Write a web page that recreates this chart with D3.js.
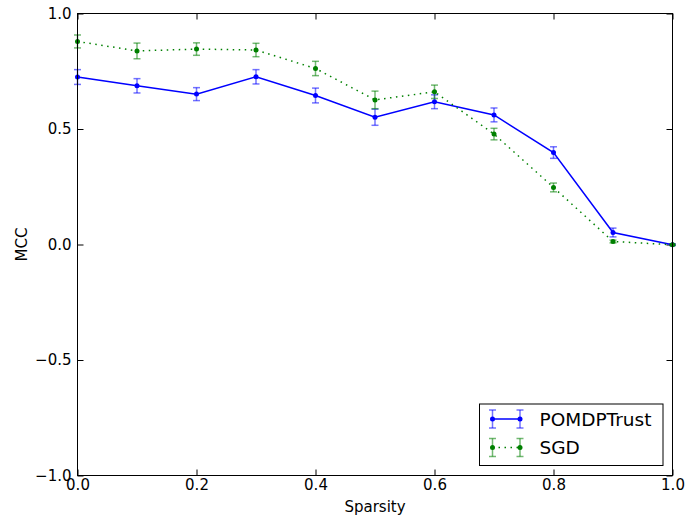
<!DOCTYPE html>
<html>
<head>
<meta charset="utf-8">
<script src="https://cdn.jsdelivr.net/npm/d3@7/dist/d3.min.js"></script>
<style>
  body { margin: 0; background: #fff; }
  text { font-family: "DejaVu Sans", sans-serif; }
</style>
</head>
<body>
<div id="chart"></div>
<script>
var sparsity = [0.0, 0.1, 0.2, 0.3, 0.4, 0.5, 0.6, 0.7, 0.8, 0.9, 1.0];
var pomdpMean = [0.725, 0.687, 0.651, 0.726, 0.645, 0.551, 0.618, 0.561, 0.398, 0.052, -0.001];
var pomdpErr = [0.032, 0.031, 0.028, 0.031, 0.032, 0.035, 0.030, 0.030, 0.025, 0.019, 0.003];
var sgdMean = [0.879, 0.838, 0.846, 0.842, 0.762, 0.626, 0.661, 0.478, 0.247, 0.013, -0.001];
var sgdErr = [0.028, 0.034, 0.027, 0.029, 0.031, 0.038, 0.029, 0.025, 0.019, 0.006, 0.003];
var xTicks = [0.0, 0.2, 0.4, 0.6, 0.8, 1.0];
var yTicks = [-1.0, -0.5, 0.0, 0.5, 1.0];

var series = [
  {name: "POMDPTrust", mean: pomdpMean, err: pomdpErr, color: "#0000ff", dash: null},
  {name: "SGD", mean: sgdMean, err: sgdErr, color: "#008000", dash: "1.5,4.5"}
];

var margin = {top: 13.5, right: 13.5, bottom: 46.5, left: 77.5};
var width = 686 - margin.left - margin.right;
var height = 522 - margin.top - margin.bottom;

var svg = d3.select("#chart")
    .append("svg")
    .attr("width", 686)
    .attr("height", 522);
var graph = svg.append("g")
    .attr("transform", "translate(" + margin.left + "," + margin.top + ")");

var x = d3.scaleLinear().domain([0, 1]).range([0, width]);
var y = d3.scaleLinear().domain([-1, 1]).range([height, 0]);

// ticks on all four sides, pointing inwards
function styleAxis(g) {
    g.select(".domain").remove();
    g.selectAll("line").attr("stroke", "#000").attr("stroke-width", 1);
    g.selectAll("text").attr("font-size", "15px").attr("fill", "#000");
}
graph.append("g")
    .attr("transform", "translate(0," + height + ")")
    .call(d3.axisBottom(x).tickValues(xTicks).tickFormat(d3.format(".1f")).tickSizeInner(-6).tickPadding(4))
    .call(styleAxis);
graph.append("g")
    .call(d3.axisTop(x).tickValues(xTicks).tickFormat("").tickSizeInner(-6))
    .call(styleAxis);
graph.append("g")
    .call(d3.axisLeft(y).tickValues(yTicks).tickFormat(function (d) { return d3.format(".1f")(d).replace("-", "\u2212"); }).tickSizeInner(-6).tickPadding(6))
    .call(styleAxis);
graph.append("g")
    .attr("transform", "translate(" + width + ",0)")
    .call(d3.axisRight(y).tickValues(yTicks).tickFormat("").tickSizeInner(-6))
    .call(styleAxis);

graph.append("text")
    .attr("x", width / 2)
    .attr("y", height + 36)
    .attr("text-anchor", "middle")
    .attr("font-size", "15px")
    .text("Sparsity");
graph.append("text")
    .attr("transform", "rotate(-90)")
    .attr("x", -height / 2)
    .attr("y", -51)
    .attr("text-anchor", "middle")
    .attr("font-size", "15px")
    .text("MCC");

var line = d3.line()
    .x(function (d, i) { return x(sparsity[i]); })
    .y(function (d) { return y(d); });

series.forEach(function (s) {
    var g = graph.append("g");
    // error bars
    var eb = g.selectAll(".err")
        .data(s.mean)
        .enter()
        .append("g")
        .attr("stroke", s.color)
        .attr("stroke-opacity", 0.55)
        .attr("stroke-width", 1.5);
    eb.append("line")
        .attr("x1", function (d, i) { return x(sparsity[i]); })
        .attr("x2", function (d, i) { return x(sparsity[i]); })
        .attr("y1", function (d, i) { return y(d - s.err[i]); })
        .attr("y2", function (d, i) { return y(d + s.err[i]); });
    [-1, 1].forEach(function (sign) {
        eb.append("line")
            .attr("x1", function (d, i) { return x(sparsity[i]) - 3.5; })
            .attr("x2", function (d, i) { return x(sparsity[i]) + 3.5; })
            .attr("y1", function (d, i) { return y(d + sign * s.err[i]); })
            .attr("y2", function (d, i) { return y(d + sign * s.err[i]); });
    });
    g.append("path")
        .datum(s.mean)
        .attr("fill", "none")
        .attr("stroke", s.color)
        .attr("stroke-width", 1.5)
        .attr("stroke-dasharray", s.dash)
        .attr("d", line);
    g.selectAll(".pt")
        .data(s.mean)
        .enter()
        .append("circle")
        .attr("cx", function (d, i) { return x(sparsity[i]); })
        .attr("cy", function (d) { return y(d); })
        .attr("r", 2.5)
        .attr("fill", s.color);
});

// frame
graph.append("rect")
    .attr("width", width)
    .attr("height", height)
    .attr("fill", "none")
    .attr("stroke", "#000")
    .attr("stroke-width", 1);

// legend
var legend = graph.append("g")
    .attr("transform", "translate(" + (width - 193) + "," + (height - 71.5) + ")");
legend.append("rect")
    .attr("width", 183.5)
    .attr("height", 61.5)
    .attr("fill", "#fff")
    .attr("stroke", "#000")
    .attr("stroke-width", 1);
series.forEach(function (s, k) {
    var ly = 15 + k * 28.5;
    var row = legend.append("g");
    row.append("line")
        .attr("x1", 13).attr("x2", 40.5).attr("y1", ly).attr("y2", ly)
        .attr("stroke", s.color).attr("stroke-width", 1.5)
        .attr("stroke-dasharray", s.dash);
    [13, 40.5].forEach(function (lx) {
        var e = row.append("g").attr("stroke", s.color).attr("stroke-opacity", 0.55).attr("stroke-width", 1.5);
        e.append("line").attr("x1", lx).attr("x2", lx).attr("y1", ly - 9).attr("y2", ly + 9);
        e.append("line").attr("x1", lx - 3.5).attr("x2", lx + 3.5).attr("y1", ly - 9).attr("y2", ly - 9);
        e.append("line").attr("x1", lx - 3.5).attr("x2", lx + 3.5).attr("y1", ly + 9).attr("y2", ly + 9);
        row.append("circle").attr("cx", lx).attr("cy", ly).attr("r", 2.5).attr("fill", s.color);
    });
    row.append("text")
        .attr("x", 60)
        .attr("y", ly)
        .attr("dy", "0.36em")
        .attr("font-size", "18.5px")
        .text(s.name);
});
</script>
</body>
</html>
